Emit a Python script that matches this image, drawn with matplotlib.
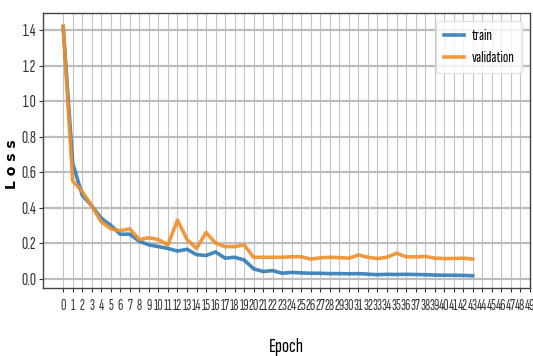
import matplotlib
matplotlib.use("Agg")
import matplotlib.pyplot as plt

# data
epochs = list(range(44))
train_loss = [1.42, 0.65, 0.47, 0.41, 0.34, 0.30, 0.25, 0.25, 0.21, 0.19,
              0.18, 0.17, 0.155, 0.165, 0.135, 0.13, 0.15, 0.115, 0.12, 0.105,
              0.055, 0.04, 0.045, 0.03, 0.035, 0.032, 0.03, 0.03, 0.028, 0.028,
              0.027, 0.028, 0.025, 0.022, 0.024, 0.023, 0.024, 0.023, 0.022, 0.02,
              0.019, 0.019, 0.018, 0.016]
val_loss = [1.42, 0.55, 0.49, 0.41, 0.32, 0.28, 0.27, 0.28, 0.22, 0.23,
            0.22, 0.19, 0.33, 0.22, 0.17, 0.26, 0.20, 0.18, 0.18, 0.19,
            0.12, 0.12, 0.12, 0.12, 0.123, 0.123, 0.11, 0.117, 0.12, 0.118,
            0.115, 0.133, 0.12, 0.113, 0.12, 0.143, 0.123, 0.122, 0.125, 0.115,
            0.113, 0.113, 0.115, 0.11]
xtick_vals = list(range(50))
ytick_vals = [0.0, 0.2, 0.4, 0.6, 0.8, 1.0, 1.2, 1.4]

# narrow font, the reference text looks squeezed sideways
narrow = ["Sofia Sans Extra Condensed", "Fira Sans Extra Condensed", "DejaVu Sans"]

fig = plt.figure(figsize=(5.33, 3.56), dpi=100)
ax = fig.add_axes([0.081, 0.19, 0.914, 0.773])

ax.plot(epochs, train_loss, color="#2f7bb6", lw=2.6, label="train", alpha=0.9)
ax.plot(epochs, val_loss, color="#ef8f2a", lw=2.6, label="validation", alpha=0.9)

ax.set_xlim(-2.1, 49.05)
ax.set_ylim(-0.055, 1.495)
ax.set_xticks(xtick_vals)
ax.set_xticklabels([str(v) for v in xtick_vals], family=narrow, fontsize=10.8)
ax.set_yticks(ytick_vals)
ax.set_yticklabels([f"{v:.1f}" for v in ytick_vals], family=narrow, fontsize=12.5)
ax.tick_params(axis="x", length=3, pad=5, colors="#333333")
ax.tick_params(axis="y", length=3, pad=2, colors="#333333")

ax.xaxis.grid(True, color="#c4c4c4", lw=0.8)
ax.yaxis.grid(True, color="#bdbdbd", lw=1.6)
ax.set_axisbelow(True)
for s in ax.spines.values():
    s.set_color("#444444")
    s.set_linewidth(1.0)

ax.set_xlabel("Epoch", family=narrow, fontsize=15, fontweight="bold")
ax.xaxis.set_label_coords(0.5, -0.18)
ax.set_ylabel("L o s s", fontsize=10, fontweight="bold")
ax.yaxis.set_label_coords(-0.05, 0.45)

leg = ax.legend(loc="upper right", prop={"family": narrow, "size": 11.5},
                frameon=True, handlelength=1.2, handletextpad=0.5,
                borderpad=0.5, labelspacing=0.5)
leg.get_frame().set_edgecolor("#dddddd")

fig.savefig("out.png", dpi=100)
